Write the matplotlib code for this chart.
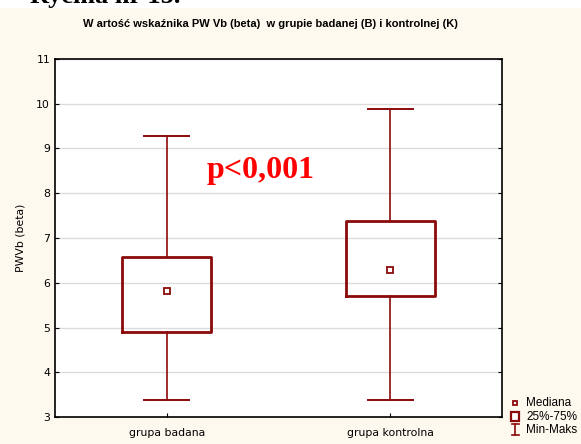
import matplotlib
matplotlib.use("Agg")
import matplotlib.pyplot as plt
from matplotlib.patches import Rectangle
from matplotlib.lines import Line2D

categories = ["grupa badana", "grupa kontrolna"]
medians = [5.82, 6.29]
q1 = [4.90, 5.70]
q3 = [6.57, 7.37]
mins = [3.38, 3.38]
maxs = [9.29, 9.89]
yticks = [3, 4, 5, 6, 7, 8, 9, 10, 11]

W, H = 581, 444
DR = "#8B0A0A"
BG = "#FEF9EE"

fig = plt.figure(figsize=(W / 100, H / 100), dpi=100, facecolor=BG)

def fx(x):
    return x / W

def fy(y):
    return 1 - y / H

# white strip at top with caption clipped as in the reference
fig.add_artist(Rectangle((0, fy(8)), 1, 8 / H, transform=fig.transFigure,
                         facecolor="white", edgecolor="none", zorder=0))
fig.text(fx(30), fy(3), "Rycina nr 15.", fontsize=19, fontweight="bold",
         family="Liberation Serif", ha="left", va="baseline", color="black")

ax = fig.add_axes([fx(55), fy(417), fx(502) - fx(55), (417 - 59) / H])
ax.set_facecolor("white")

stats = []
for i, c in enumerate(categories):
    stats.append(dict(label=c, med=medians[i], q1=q1[i], q3=q3[i],
                      whislo=mins[i], whishi=maxs[i], fliers=[]))

pos = list(range(1, len(categories) + 1))
ax.bxp(stats, positions=pos, widths=0.4, capwidths=0.2, showfliers=False,
       boxprops=dict(color=DR, linewidth=2.0),
       whiskerprops=dict(color=DR, linewidth=1.2),
       capprops=dict(color=DR, linewidth=1.4),
       medianprops=dict(linestyle="none"), zorder=3)
ax.plot(pos, medians, linestyle="none", marker="s", markersize=4,
        markerfacecolor="white", markeredgecolor=DR, markeredgewidth=1.3, zorder=4)

ax.set_xlim(0.5, 2.5)
ax.set_ylim(3, 11)
ax.set_yticks(yticks)
ax.set_xticks(pos)
ax.set_xticklabels(categories)
ax.yaxis.grid(True, color="#dcdcdc", linewidth=1.0, zorder=0)
ax.set_axisbelow(True)
ax.tick_params(axis="both", direction="in", length=3, width=0.8,
               labelsize=7.8, colors="black", right=True)
ax.tick_params(axis="x", pad=8)
for s in ax.spines.values():
    s.set_linewidth(1.2)
    s.set_color("black")

ax.set_ylabel("PWVb (beta)", fontsize=7.8, labelpad=8)

fig.text(fx(270), fy(24), "W artość wskaźnika PW Vb (beta)  w grupie badanej (B) i kontrolnej (K)",
         fontsize=8.0, fontweight="bold", ha="center", va="center",
         family="Liberation Sans")

ax.text(1.42, 8.5, "p<0,001", color="red", fontsize=23, fontweight="bold",
        family="Liberation Serif", ha="center", va="center")

# legend outside axes (bottom right)
fig.add_artist(Line2D([fx(515)], [fy(402.5)], marker="s", markersize=3.5,
                      markerfacecolor="white", markeredgecolor=DR, markeredgewidth=1.3,
                      linestyle="none", transform=fig.transFigure))
fig.add_artist(Rectangle((fx(511), fy(421)), 8 / W, 9 / H, transform=fig.transFigure,
                         facecolor="white", edgecolor=DR, linewidth=1.6))
fig.add_artist(Line2D([fx(515), fx(515)], [fy(424), fy(435)], color=DR, linewidth=1.2,
                      transform=fig.transFigure))
fig.add_artist(Line2D([fx(511.5), fx(518.5)], [fy(424), fy(424)], color=DR, linewidth=1.2,
                      transform=fig.transFigure))
fig.add_artist(Line2D([fx(511.5), fx(518.5)], [fy(435), fy(435)], color=DR, linewidth=1.2,
                      transform=fig.transFigure))
for y, t in [(403, "Mediana"), (416.5, "25%-75%"), (430, "Min-Maks")]:
    fig.text(fx(526), fy(y), t, fontsize=8.5, ha="left", va="center",
             family="Liberation Sans")

fig.savefig("out.png", dpi=100, facecolor=BG)
